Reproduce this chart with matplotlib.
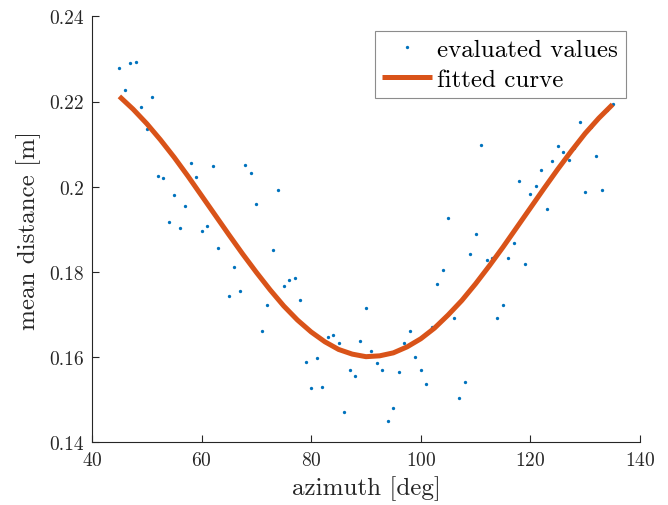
import numpy as np
import matplotlib
matplotlib.use("Agg")
import matplotlib.pyplot as plt
import matplotlib.ticker as mticker

BLUE = "#0072BD"
ORANGE = "#D95319"
AXIS = "#262626"

# evaluated values, one per degree of azimuth (45..135)
azimuth = list(range(45, 136))
distance = [
    0.2278, 0.2228, 0.2290, 0.2292, 0.2187, 0.2135, 0.2211, 0.2026, 0.2021, 0.1916,
    0.1980, 0.1903, 0.1955, 0.2056, 0.2023, 0.1896, 0.1908, 0.2049, 0.1857, 0.1905,
    0.1743, 0.1811, 0.1755, 0.2052, 0.2031, 0.1959, 0.1661, 0.1723, 0.1851, 0.1993,
    0.1768, 0.1782, 0.1786, 0.1734, 0.1588, 0.1528, 0.1599, 0.1529, 0.1647, 0.1652,
    0.1632, 0.1472, 0.1570, 0.1556, 0.1637, 0.1715, 0.1615, 0.1587, 0.1570, 0.1451,
    0.1481, 0.1566, 0.1632, 0.1662, 0.1600, 0.1570, 0.1537, 0.1670, 0.1772, 0.1805,
    0.1926, 0.1691, 0.1505, 0.1542, 0.1841, 0.1888, 0.2097, 0.1829, 0.1833, 0.1691,
    0.1722, 0.1833, 0.1869, 0.2013, 0.1819, 0.1984, 0.2002, 0.2040, 0.1947, 0.2061,
    0.2095, 0.2081, 0.2063, 0.2092, 0.2153, 0.1988, 0.2140, 0.2072, 0.1992, 0.2180,
    0.2193,
]

# fitted curve, read every 2.5 deg
fit_az = [45, 47.5, 50, 52.5, 55, 57.5, 60, 62.5, 65, 67.5, 70, 72.5, 75, 77.5, 80,
          82.5, 85, 87.5, 90, 92.5, 95, 97.5, 100, 102.5, 105, 107.5, 110, 112.5,
          115, 117.5, 120, 122.5, 125, 127.5, 130, 132.5, 135]
fit_val = [0.2212, 0.2182, 0.2148, 0.2110, 0.2069, 0.2025, 0.1979, 0.1933, 0.1887,
           0.1842, 0.1799, 0.1758, 0.1720, 0.1687, 0.1659, 0.1636, 0.1618, 0.1607,
           0.1601, 0.1603, 0.1610, 0.1624, 0.1643, 0.1668, 0.1699, 0.1733, 0.1772,
           0.1814, 0.1858, 0.1904, 0.1950, 0.1996, 0.2041, 0.2084, 0.2125, 0.2161,
           0.2193]

xticks = [40, 60, 80, 100, 120, 140]
yticks = [0.14, 0.16, 0.18, 0.20, 0.22, 0.24]

plt.rcParams["font.family"] = ["cmr10", "DejaVu Serif"]
plt.rcParams["axes.formatter.use_mathtext"] = True

fig = plt.figure(figsize=(6.68, 5.06), dpi=100)
fig.patch.set_facecolor("white")
ax = fig.add_axes([0.1377, 0.1239, 0.958 - 0.1377, 0.9658 - 0.1239])

ax.plot(azimuth, distance, linestyle="none", marker="o", ms=2.4, mew=0,
        color=BLUE, label="evaluated values", zorder=2)
ax.plot(fit_az, fit_val, color=ORANGE, lw=3.6, solid_capstyle="butt",
        solid_joinstyle="round", label="fitted curve", zorder=3)

ax.set_xlim(40, 140)
ax.set_ylim(0.14, 0.24)
ax.set_xticks(xticks)
ax.set_yticks(yticks)
ax.yaxis.set_major_formatter(mticker.FormatStrFormatter("%g"))

for sp in ["top", "right"]:
    ax.spines[sp].set_visible(False)
for sp in ["left", "bottom"]:
    ax.spines[sp].set_color(AXIS)
    ax.spines[sp].set_linewidth(0.8)
ax.tick_params(direction="in", length=5, width=0.8, colors=AXIS,
               labelsize=14, labelcolor=AXIS, pad=6)

ax.set_xlabel("azimuth [deg]", fontsize=18, color=AXIS, labelpad=5)
ax.set_ylabel("mean distance [m]", fontsize=18, color=AXIS, labelpad=6)

leg = ax.legend(loc="upper right", bbox_to_anchor=(0.9739, 0.9662), borderaxespad=0,
                fontsize=18, frameon=True, fancybox=False, edgecolor="#8c8c8c",
                framealpha=1, handlelength=2.0, handletextpad=0.2,
                labelspacing=0.3, borderpad=0.3, markerscale=1.0)
leg.get_frame().set_linewidth(0.8)

fig.savefig("out.png", dpi=100, facecolor="white")
